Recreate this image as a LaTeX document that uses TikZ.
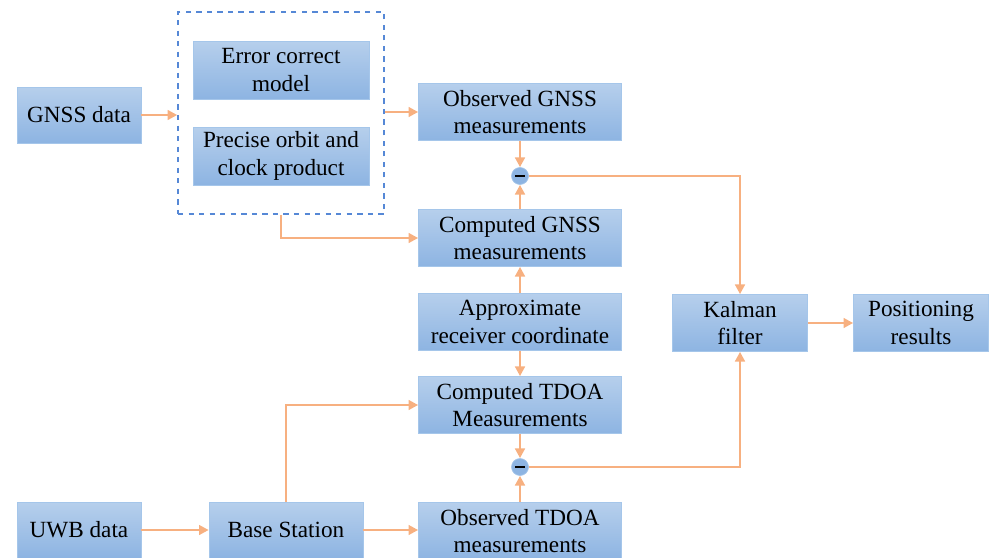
\documentclass[tikz,border=0pt]{standalone}
\usepackage{fontspec}
\setmainfont{Liberation Serif}
\usetikzlibrary{arrows.meta}

\definecolor{boxtop}{RGB}{182,207,236}
\definecolor{boxbot}{RGB}{141,180,226}
\definecolor{boxline}{RGB}{165,198,234}
\definecolor{flow}{RGB}{247,176,128}
\definecolor{dashline}{RGB}{86,136,214}

\begin{document}
\begin{tikzpicture}[x=0.02cm,y=-0.02cm,
    blk/.style={draw=boxline,line width=0.4pt,top color=boxtop,bottom color=boxbot,
        inner sep=0pt,align=center,minimum height=1.14cm,
        font=\fontsize{13.2}{15.6}\selectfont},
    sub/.style={circle,draw=boxline,fill=boxbot,minimum size=0.34cm,inner sep=0pt},
    flw/.style={draw=flow,line width=1.5pt,-{Triangle[length=5.5pt,width=5.5pt]}}]
\useasboundingbox (0,0) rectangle (989,557);
\clip (0,0) rectangle (989,557);

% GNSS side
\node [blk,minimum width=2.48cm,minimum height=1.12cm] (gnss) at (79,115) {GNSS data};
\node [draw=dashline,dashed,line width=0.9pt,minimum width=4.12cm,minimum height=4.04cm,inner sep=0pt] (corr) at (281,113) {};
\node [blk,minimum width=3.52cm,minimum height=1.16cm] (errm) at (281,70) {Error correct\\model};
\node [blk,minimum width=3.52cm,minimum height=1.16cm] (orbit) at (281,156) {Precise orbit and\\clock product};

% middle column
\node [blk,minimum width=4.06cm] (obsg) at (520,112) {Observed GNSS\\measurements};
\node [sub] (dg) at (520,176) {\rule{5.5pt}{1.5pt}};
\node [blk,minimum width=4.06cm] (compg) at (520,238) {Computed GNSS\\measurements};
\node [blk,minimum width=4.06cm] (appr) at (520,322) {Approximate\\receiver coordinate};
\node [blk,minimum width=4.06cm] (compt) at (520,405) {Computed TDOA\\Measurements};
\node [sub] (dt) at (520,467) {\rule{5.5pt}{1.5pt}};
\node [blk,minimum width=4.06cm] (obst) at (520,531) {Observed TDOA\\measurements};

% filter and output
\node [blk,minimum width=2.7cm] (kal) at (740,323) {Kalman\\filter};
\node [blk,minimum width=2.7cm] (res) at (921,323) {Positioning\\results};

% UWB side
\node [blk,minimum width=2.48cm,minimum height=1.12cm] (uwb) at (79,530) {UWB data};
\node [blk,minimum width=3.08cm,minimum height=1.12cm] (base) at (286,530) {Base Station};

% connectors
\draw [flw] (gnss.east) -- (gnss.east -| corr.west);
\draw [flw] (corr.east |- obsg) -- (obsg.west);
\draw [flw] (corr.south) |- (compg.west);
\draw [flw] (obsg.south) -- (dg.north);
\draw [flw] (compg.north) -- (dg.south);
\draw [flw] (dg.east) -| (kal.north);
\draw [flw] (appr.north) -- (compg.south);
\draw [flw] (appr.south) -- (compt.north);
\draw [flw] (compt.south) -- (dt.north);
\draw [flw] (obst.north) -- (dt.south);
\draw [flw] (dt.east) -| (kal.south);
\draw [flw] (kal.east) -- (res.west);
\draw [flw] (uwb.east) -- (base.west);
\draw [flw] (base.east) -- (base.east -| obst.west);
\draw [flw] (base.north) |- (compt.west);
\end{tikzpicture}
\end{document}
